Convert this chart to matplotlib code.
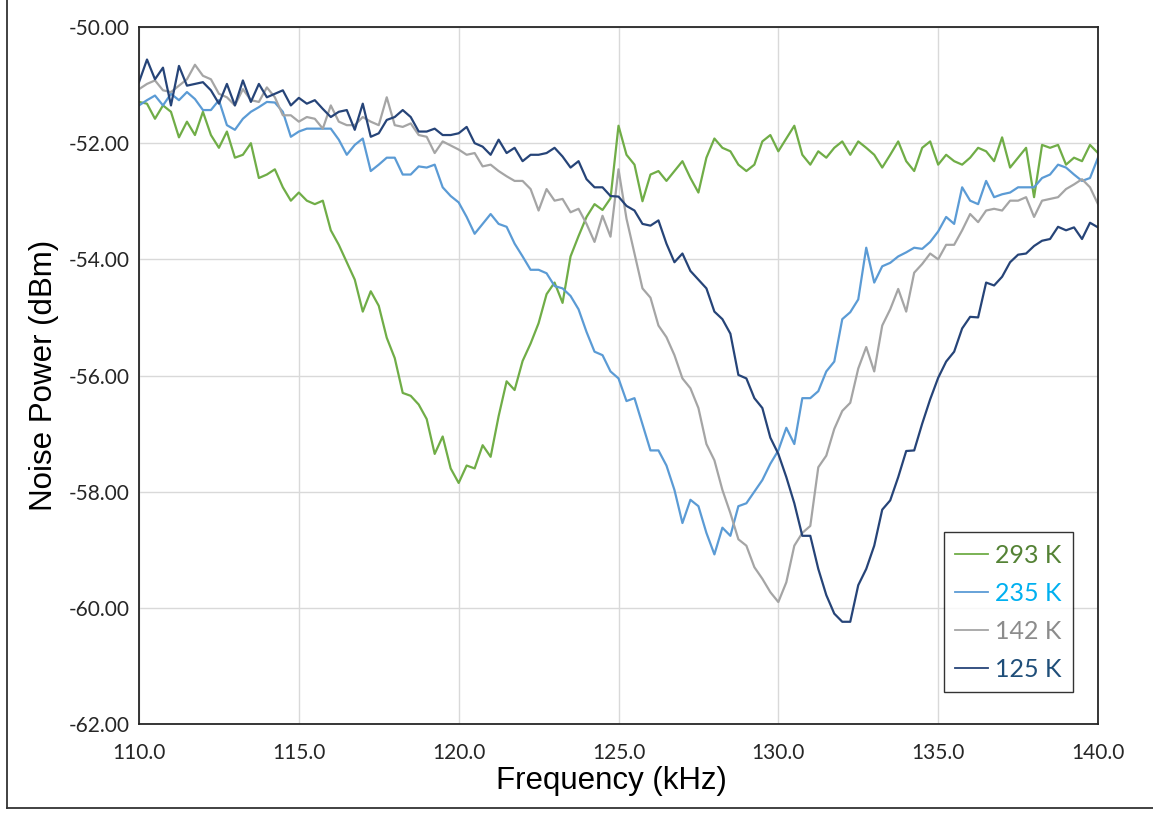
import numpy as np
import matplotlib
matplotlib.use('Agg')
import matplotlib.pyplot as plt
from matplotlib.lines import Line2D

# frequency grid (kHz), one reading every 0.25 kHz
freq = np.linspace(110.0, 140.0, 121)

# noise power (dBm), four values per kHz
p293 = [
    -51.29, -51.32, -51.58, -51.35,
    -51.46, -51.90, -51.63, -51.86,
    -51.46, -51.86, -52.08, -51.80,
    -52.25, -52.20, -52.00, -52.60,
    -52.54, -52.45, -52.76, -52.99,
    -52.85, -52.99, -53.05, -52.99,
    -53.50, -53.75, -54.05, -54.35,
    -54.90, -54.55, -54.80, -55.35,
    -55.70, -56.30, -56.35, -56.50,
    -56.75, -57.35, -57.05, -57.60,
    -57.85, -57.55, -57.60, -57.20,
    -57.40, -56.70, -56.10, -56.25,
    -55.75, -55.45, -55.10, -54.60,
    -54.40, -54.75, -53.95, -53.60,
    -53.27, -53.05, -53.15, -52.95,
    -51.70, -52.20, -52.37, -53.00,
    -52.54, -52.48, -52.65, -52.48,
    -52.31, -52.60, -52.85, -52.25,
    -51.92, -52.08, -52.14, -52.37,
    -52.48, -52.37, -51.97, -51.86,
    -52.14, -51.92, -51.70, -52.20,
    -52.37, -52.14, -52.25, -52.08,
    -51.97, -52.20, -51.97, -52.08,
    -52.20, -52.42, -52.20, -51.97,
    -52.31, -52.48, -52.08, -51.97,
    -52.37, -52.20, -52.31, -52.37,
    -52.25, -52.08, -52.14, -52.31,
    -51.90, -52.42, -52.25, -52.08,
    -52.93, -52.03, -52.08, -52.03,
    -52.37, -52.25, -52.31, -52.03,
    -52.17,
]

p235 = [
    -51.35, -51.26, -51.18, -51.35,
    -51.15, -51.26, -51.12, -51.24,
    -51.43, -51.43, -51.26, -51.69,
    -51.77, -51.58, -51.46, -51.38,
    -51.29, -51.30, -51.46, -51.89,
    -51.80, -51.75, -51.75, -51.75,
    -51.75, -51.94, -52.20, -52.03,
    -51.92, -52.48, -52.37, -52.25,
    -52.25, -52.54, -52.54, -52.40,
    -52.42, -52.37, -52.76, -52.91,
    -53.02, -53.27, -53.56, -53.39,
    -53.22, -53.39, -53.44, -53.73,
    -53.95, -54.18, -54.18, -54.24,
    -54.46, -54.50, -54.63, -54.86,
    -55.25, -55.59, -55.65, -55.93,
    -56.05, -56.44, -56.39, -56.84,
    -57.29, -57.29, -57.55, -57.97,
    -58.54, -58.14, -58.25, -58.71,
    -59.08, -58.62, -58.76, -58.25,
    -58.20, -58.00, -57.80, -57.52,
    -57.29, -56.90, -57.18, -56.39,
    -56.39, -56.27, -55.93, -55.76,
    -55.03, -54.91, -54.69, -53.80,
    -54.40, -54.12, -54.06, -53.95,
    -53.88, -53.80, -53.82, -53.70,
    -53.52, -53.27, -53.39, -52.76,
    -52.99, -53.05, -52.65, -52.93,
    -52.88, -52.85, -52.76, -52.76,
    -52.76, -52.60, -52.54, -52.37,
    -52.42, -52.54, -52.65, -52.60,
    -52.25,
]

p142 = [
    -51.07, -50.98, -50.92, -51.09,
    -51.12, -51.01, -50.90, -50.65,
    -50.84, -50.90, -51.15, -51.21,
    -51.35, -51.07, -51.26, -51.29,
    -51.04, -51.21, -51.52, -51.52,
    -51.63, -51.55, -51.58, -51.75,
    -51.35, -51.63, -51.69, -51.69,
    -51.55, -51.63, -51.69, -51.21,
    -51.69, -51.72, -51.66, -51.86,
    -51.89, -52.17, -51.97, -52.04,
    -52.11, -52.20, -52.17, -52.40,
    -52.37, -52.48, -52.57, -52.65,
    -52.65, -52.79, -53.16, -52.79,
    -52.99, -52.96, -53.19, -53.13,
    -53.39, -53.70, -53.25, -53.61,
    -52.45, -53.30, -53.90, -54.50,
    -54.66, -55.14, -55.34, -55.65,
    -56.05, -56.22, -56.56, -57.18,
    -57.46, -57.97, -58.37, -58.82,
    -58.93, -59.30, -59.50, -59.73,
    -59.90, -59.56, -58.93, -58.71,
    -58.59, -57.58, -57.38, -56.92,
    -56.61, -56.47, -55.88, -55.51,
    -55.93, -55.14, -54.86, -54.51,
    -54.90, -54.23, -54.08, -53.90,
    -54.00, -53.75, -53.75, -53.50,
    -53.22, -53.36, -53.16, -53.13,
    -53.16, -52.99, -52.99, -52.93,
    -53.27, -52.99, -52.96, -52.93,
    -52.79, -52.71, -52.62, -52.76,
    -53.05,
]

p125 = [
    -50.95, -50.56, -50.90, -50.70,
    -51.35, -50.67, -51.01, -50.98,
    -50.95, -51.09, -51.32, -50.98,
    -51.35, -50.92, -51.29, -50.98,
    -51.21, -51.15, -51.09, -51.35,
    -51.22, -51.32, -51.26, -51.41,
    -51.55, -51.46, -51.43, -51.77,
    -51.32, -51.89, -51.83, -51.60,
    -51.55, -51.43, -51.55, -51.80,
    -51.80, -51.75, -51.86, -51.86,
    -51.83, -51.72, -52.00, -52.06,
    -52.20, -51.94, -52.17, -52.08,
    -52.31, -52.20, -52.20, -52.17,
    -52.08, -52.23, -52.42, -52.31,
    -52.62, -52.76, -52.76, -52.91,
    -52.92, -53.08, -53.16, -53.39,
    -53.42, -53.33, -53.73, -54.05,
    -53.90, -54.20, -54.35, -54.50,
    -54.90, -55.03, -55.28, -55.99,
    -56.05, -56.39, -56.56, -57.07,
    -57.35, -57.75, -58.20, -58.76,
    -58.76, -59.33, -59.78, -60.10,
    -60.24, -60.24, -59.61, -59.33,
    -58.93, -58.31, -58.15, -57.75,
    -57.30, -57.29, -56.83, -56.41,
    -56.04, -55.76, -55.59, -55.19,
    -54.99, -55.00, -54.40, -54.45,
    -54.30, -54.05, -53.92, -53.90,
    -53.77, -53.68, -53.65, -53.44,
    -53.50, -53.45, -53.65, -53.37,
    -53.45,
]

labels = ['293 K', '235 K', '142 K', '125 K']
line_colors = ['#70ad47', '#5b9bd5', '#a5a5a5', '#264478']
text_colors = ['#548235', '#00b0f0', '#8c8c8c', '#1f4e79']

yticks = [-50, -52, -54, -56, -58, -60, -62]
xticks = [110, 115, 120, 125, 130, 135, 140]

tick_font = ['Lato', 'DejaVu Sans']
label_font = ['Liberation Sans', 'DejaVu Sans']

fig = plt.figure(figsize=(11.53, 8.13), dpi=100)
ax = fig.add_axes([139/1153, 1 - 724/813, 959/1153, 697/813])

for ys, lab, c in zip([p293, p235, p142, p125], labels, line_colors):
    ax.plot(freq, ys, color=c, linewidth=1.6, label=lab)

ax.set_xlim(110, 140)
ax.set_ylim(-62, -50)
ax.set_xticks(xticks)
ax.set_yticks(yticks)
ax.set_xticklabels(['%.1f' % t for t in xticks], family=tick_font, fontsize=15, color='#262626')
ax.set_yticklabels(['%.2f' % t for t in yticks], family=tick_font, fontsize=15, color='#262626')
ax.tick_params(length=0)
ax.tick_params(axis='x', pad=14)
ax.tick_params(axis='y', pad=7)
ax.grid(True, color='#d9d9d9', linewidth=1.0)
ax.set_axisbelow(True)
for s in ax.spines.values():
    s.set_color('#262626')
    s.set_linewidth(1.3)

ax.set_xlabel('Frequency (kHz)', family=label_font, fontsize=22.5, color='black')
ax.set_ylabel('Noise Power (dBm)', family=label_font, fontsize=22.5, color='black')
ax.xaxis.set_label_coords(0.493, -0.06)
ax.yaxis.set_label_coords(-0.083, 0.5)

leg = ax.legend(loc='lower right', bbox_to_anchor=(0.974, 0.046), frameon=True,
                fancybox=False, prop={'family': tick_font, 'size': 18},
                handlelength=1.3, handletextpad=0.3, labelspacing=0.6,
                borderpad=0.45, borderaxespad=0)
leg.get_frame().set_edgecolor('black')
leg.get_frame().set_linewidth(1.0)
for txt, c in zip(leg.get_texts(), text_colors):
    txt.set_color(c)
for h in leg.legend_handles:
    h.set_linewidth(1.3)

# outer frame of the original picture (left and bottom edges)
fig.add_artist(Line2D([7/1153, 7/1153], [1, 1 - 808/813], color='#333333', linewidth=1.3))
fig.add_artist(Line2D([7/1153, 1], [1 - 808/813, 1 - 808/813], color='#333333', linewidth=1.3))

fig.savefig('out.png', dpi=100)
